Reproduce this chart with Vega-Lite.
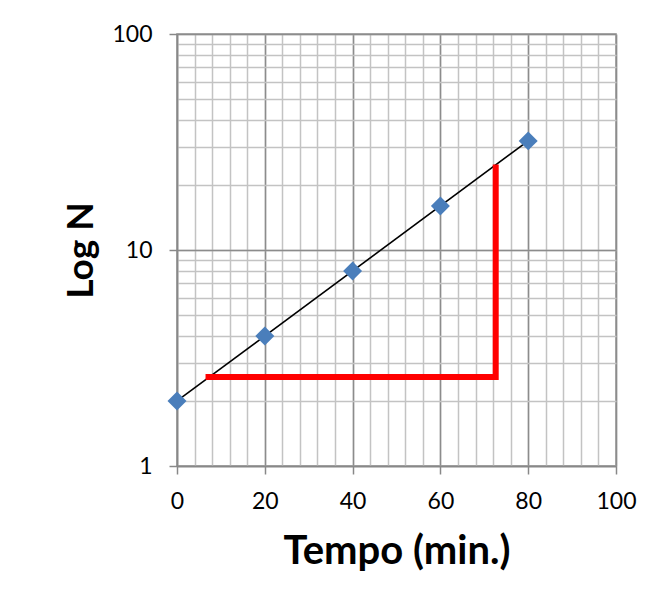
{
  "$schema": "https://vega.github.io/schema/vega-lite/v6.json",
  "width": 439,
  "height": 432,
  "autosize": "none",
  "padding": {"left": 177, "top": 34, "right": 42, "bottom": 138},
  "background": "white",
  "config": {
    "view": {"stroke": "#888888", "strokeWidth": 1.5},
    "font": "Lato"
  },
  "datasets": {
    "points": [
      {"tempo": 0, "n": 2},
      {"tempo": 20, "n": 4},
      {"tempo": 40, "n": 8},
      {"tempo": 60, "n": 16},
      {"tempo": 80, "n": 32}
    ],
    "trend": [
      {"tempo": 0, "n": 2},
      {"tempo": 80, "n": 32}
    ],
    "red": [
      {"tempo": 6.5, "n": 2.58, "ord": 1},
      {"tempo": 72.6, "n": 2.58, "ord": 2},
      {"tempo": 72.6, "n": 24.9, "ord": 3}
    ]
  },
  "layer": [
    {
      "data": {"name": "points"},
      "mark": {"type": "point", "opacity": 0},
      "encoding": {
        "x": {
          "field": "tempo", "type": "quantitative",
          "scale": {"domain": [0, 100], "nice": false, "zero": false},
          "axis": {
            "orient": "bottom",
            "values": [0, 4, 8, 12, 16, 20, 24, 28, 32, 36, 40, 44, 48, 52, 56, 60, 64, 68, 72, 76, 80, 84, 88, 92, 96, 100],
            "grid": true, "gridColor": "#c3c3c3", "gridWidth": 1.5,
            "labels": false, "ticks": false, "domain": false, "title": null
          }
        },
        "y": {
          "field": "n", "type": "quantitative",
          "scale": {"type": "log", "domain": [1, 100], "nice": false},
          "axis": {
            "orient": "left",
            "values": [1, 2, 3, 4, 5, 6, 7, 8, 9, 10, 20, 30, 40, 50, 60, 70, 80, 90, 100],
            "grid": true, "gridColor": "#c3c3c3", "gridWidth": 1.5,
            "labels": false, "ticks": false, "domain": false, "title": null
          }
        }
      }
    },
    {
      "data": {"name": "points"},
      "mark": {"type": "point", "opacity": 0},
      "encoding": {
        "x": {
          "field": "tempo", "type": "quantitative",
          "scale": {"domain": [0, 100], "nice": false, "zero": false},
          "axis": {
            "orient": "bottom",
            "values": [0, 20, 40, 60, 80, 100],
            "grid": true, "gridColor": "#8c8c8c", "gridWidth": 1.5,
            "labels": false, "ticks": false, "domain": false, "title": null
          }
        },
        "y": {
          "field": "n", "type": "quantitative",
          "scale": {"type": "log", "domain": [1, 100], "nice": false},
          "axis": {
            "orient": "left",
            "values": [1, 10, 100],
            "grid": true, "gridColor": "#8c8c8c", "gridWidth": 1.5,
            "labels": false, "ticks": false, "domain": false, "title": null
          }
        }
      }
    },
    {
      "data": {"name": "trend"},
      "mark": {"type": "line", "color": "black", "strokeWidth": 1.6},
      "encoding": {
        "x": {
          "field": "tempo", "type": "quantitative",
          "scale": {"domain": [0, 100], "nice": false, "zero": false},
          "axis": {
            "orient": "bottom",
            "values": [0, 20, 40, 60, 80, 100],
            "format": "d",
            "grid": false,
            "domain": true, "domainColor": "#888888", "domainWidth": 1.5,
            "ticks": true, "tickColor": "#888888", "tickWidth": 1.5, "tickSize": 8,
            "labelFont": "Lato", "labelFontSize": 23, "labelColor": "black", "labelPadding": 16,
            "labelFlush": false, "labelOverlap": false, "labelBound": false,
            "title": "Tempo (min.)",
            "titleFont": "Lato", "titleFontSize": 40, "titleFontWeight": "bold", "titleColor": "black",
            "titleBaseline": "alphabetic", "titleY": 97
          }
        },
        "y": {
          "field": "n", "type": "quantitative",
          "scale": {"type": "log", "domain": [1, 100], "nice": false},
          "axis": {
            "orient": "left",
            "values": [1, 10, 100],
            "format": "d",
            "grid": false,
            "domain": true, "domainColor": "#888888", "domainWidth": 1.5,
            "ticks": true, "tickColor": "#888888", "tickWidth": 1.5, "tickSize": 8,
            "labelFont": "Lato", "labelFontSize": 23, "labelColor": "black", "labelPadding": 17,
            "labelFlush": false, "labelOverlap": false, "labelBound": false,
            "title": "Log N",
            "titleFont": "Lato", "titleFontSize": 37, "titleFontWeight": "bold", "titleColor": "black",
            "titleBaseline": "alphabetic", "titleX": -85
          }
        }
      }
    },
    {
      "data": {"name": "red"},
      "mark": {"type": "line", "color": "#ff0000", "strokeWidth": 6, "strokeJoin": "miter", "strokeCap": "butt"},
      "encoding": {
        "x": {"field": "tempo", "type": "quantitative", "scale": {"domain": [0, 100], "nice": false, "zero": false}, "axis": null},
        "y": {"field": "n", "type": "quantitative", "scale": {"type": "log", "domain": [1, 100], "nice": false}, "axis": null},
        "order": {"field": "ord", "type": "quantitative"}
      }
    },
    {
      "data": {"name": "points"},
      "mark": {"type": "point", "shape": "diamond", "filled": true, "color": "#4a7ebb", "opacity": 1, "size": 360},
      "encoding": {
        "x": {"field": "tempo", "type": "quantitative", "scale": {"domain": [0, 100], "nice": false, "zero": false}, "axis": null},
        "y": {"field": "n", "type": "quantitative", "scale": {"type": "log", "domain": [1, 100], "nice": false}, "axis": null}
      }
    }
  ],
  "resolve": {"axis": {"x": "independent", "y": "independent"}}
}
